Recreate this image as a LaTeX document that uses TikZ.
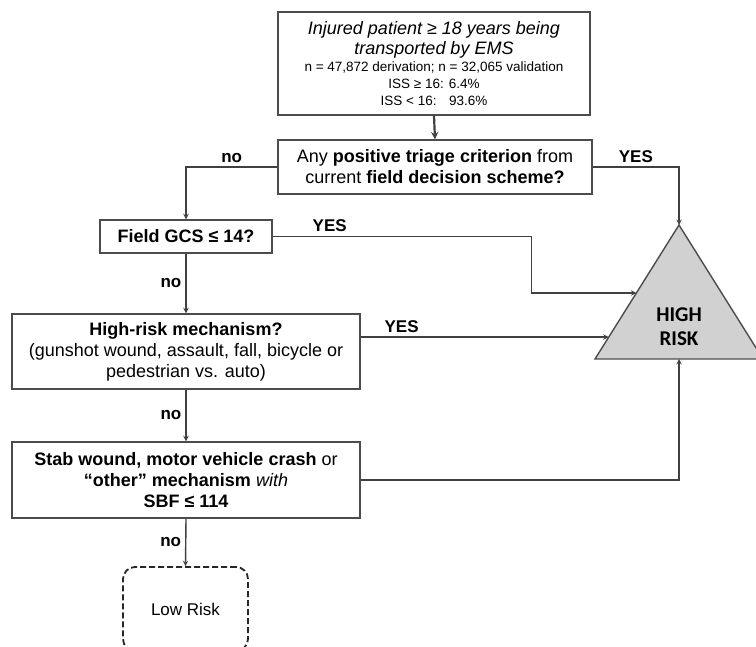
\documentclass[tikz,border=0pt]{standalone}
\usepackage{fontspec}
\setmainfont{Liberation Sans}
\newfontfamily\riskfont{Carlito}
\usetikzlibrary{calc}

\begin{document}
\begin{tikzpicture}[x=1pt,y=-1pt,line width=1.4pt,>=stealth,
  box/.style={draw=black!70,align=center,inner sep=2pt,font=\fontsize{18}{21}\selectfont},
  lab/.style={font=\fontsize{17}{20}\selectfont\bfseries,inner sep=4pt},
  con/.style={draw=black!75,->}]
\useasboundingbox (0,0) rectangle (756,647);
% boxes
\node[box,minimum width=312,minimum height=103,font=\fontsize{18}{20}\selectfont] (inj) at (434,63.5)
  {\textit{Injured patient ≥ 18 years being}\\\textit{transported by EMS}\\[-3pt]
   {\fontsize{13.5}{16}\selectfont n = 47,872 derivation; n = 32,065 validation}\\[-3pt]
   {\fontsize{13.5}{16}\selectfont ISS ≥ 16: 6.4\%}\\[-3pt]
   {\fontsize{13.5}{16}\selectfont ISS < 16: \ \ 93.6\%}};
\node[box,minimum width=314,minimum height=54] (any) at (435,167)
  {Any \textbf{positive triage criterion} from\\current \textbf{field decision scheme?}};
\node[box,minimum width=172,minimum height=33] (gcs) at (186,236.5) {\textbf{Field GCS ≤ 14?}};
\node[box,minimum width=348,minimum height=75] (mech) at (186,351.5)
  {\textbf{High-risk mechanism?}\\(gunshot wound, assault, fall, bicycle or\\pedestrian vs. auto)};
\node[box,minimum width=348,minimum height=76] (stab) at (186,480)
  {\textbf{Stab wound, motor vehicle crash} or\\\textbf{“other” mechanism} \textit{with}\\\textbf{SBF ≤ 114}};
\node[box,draw=black!85,line width=1.8pt,dash pattern=on 6pt off 3pt,rounded corners=12pt,minimum width=125,minimum height=84,
  font=\fontsize{17}{20}\selectfont] (low) at (185.5,609) {Low Risk};
% high risk triangle
\coordinate (apex) at (679,225);
\coordinate (bl) at (595,359);
\coordinate (br) at (763,359);
\draw[draw=black!70,fill=black!18] (apex)--(bl)--(br)--cycle;
\node[align=center,font=\riskfont\fontsize{21}{24}\selectfont\bfseries] (risk) at (679,327) {HIGH\\RISK};
\coordinate (base) at ($(bl)!0.5!(br)$);
\coordinate (hgcs) at ($(bl)!0.4925!(apex)$);
\coordinate (hmech) at ($(bl)!0.164!(apex)$);
% connectors
\draw[con,line width=2.2pt] (inj.south) -- (any.north);
\draw[con] (any.west) -| node[lab,pos=0.25,above]{no} (gcs.north);
\draw[con] (any.east) -| node[lab,pos=0.25,above]{YES} (apex);
\draw[con] (gcs.east) -- node[lab,pos=0.22,above]{YES} ++(259,0) |- (hgcs);
\draw[con] (gcs.south) -- node[lab,left]{no} (mech.north);
\draw[con] (mech.east |- hmech) -- node[lab,pos=0.165,above]{YES} (hmech);
\draw[con] (mech.south) -- node[lab,left]{no} (stab.north);
\draw[con] (stab.east) -| (base);
\draw[con] (stab.south) -- node[lab,left]{no} (low.north);
\end{tikzpicture}
\end{document}
